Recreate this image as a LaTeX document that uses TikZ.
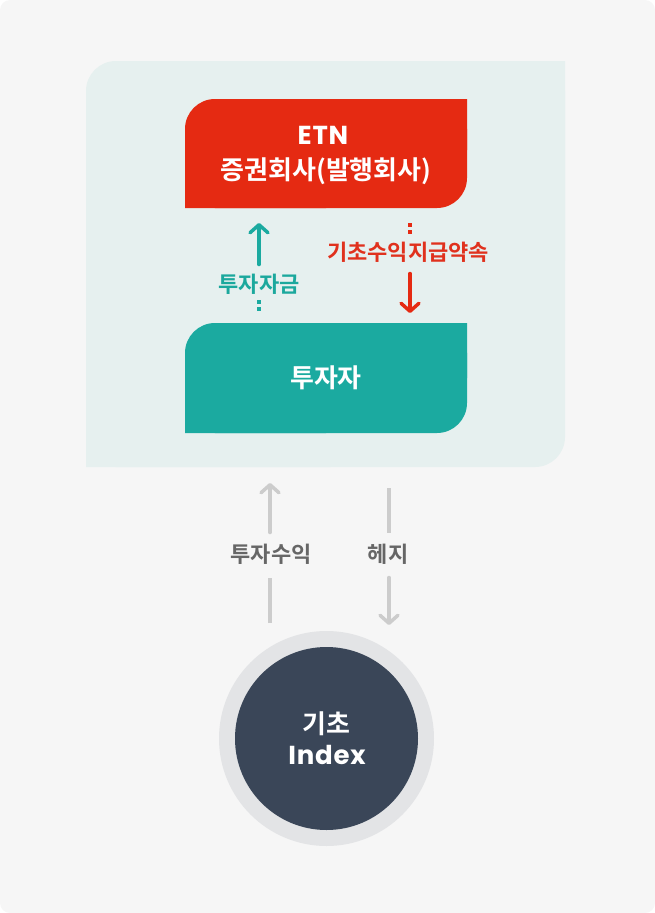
\documentclass[tikz,border=0pt]{standalone}
\usepackage{fontspec}
\usetikzlibrary{arrows.meta}
\newfontfamily\krfont{Noto Sans CJK KR Bold}
\newfontfamily\enfont{Poppins Bold}[LetterSpace=3]
\definecolor{bggray}{HTML}{F6F6F6}
\definecolor{panelc}{HTML}{E6F0EF}
\definecolor{etnred}{HTML}{E52A12}
\definecolor{tealc}{HTML}{1BAAA0}
\definecolor{navyc}{HTML}{3A4658}
\definecolor{ringc}{HTML}{E3E4E6}
\definecolor{arrgray}{HTML}{CCCCCC}
\definecolor{txtgray}{HTML}{666666}
\definecolor{redtxt}{HTML}{E0311D}
\definecolor{tealtxt}{HTML}{1BA89D}
\tikzset{
  boxtxt/.style={font=\krfont\fontsize{26}{31}\selectfont, text=white, inner sep=0pt, anchor=base},
  entxt/.style={font=\enfont\fontsize{26}{31}\selectfont, text=white, inner sep=0pt, anchor=base},
  lbl/.style={font=\krfont\fontsize{22}{26}\selectfont, inner sep=0pt, text height=17pt, text depth=2pt, outer sep=11pt},
  barb/.style={-{Straight Barb[length=8pt,width=18pt,round]}, line width=3.5pt, line cap=round},
  tealarr/.style={barb, draw=tealc},
  redarr/.style={barb, draw=etnred},
  grayline/.style={draw=arrgray, line width=3.5pt},
  grayarr/.style={barb, draw=arrgray}
}

\begin{document}
\begin{tikzpicture}[x=1pt,y=-1pt]

	\useasboundingbox (0,0) rectangle (655,913);
	\fill[bggray, rounded corners=10pt] (0,0) rectangle (655,913);
	
	\fill[panelc, rounded corners=30pt] (86,61) rectangle (565,467);
	\fill[panelc] (330,61) rectangle (565,260) (86,260) rectangle (330,467);
	
	\fill[etnred, rounded corners=30pt] (185,99) rectangle (467,208);
	\fill[etnred] (326,99) rectangle (467,150) (185,150) rectangle (326,208);
	\node[entxt] (etn) at (323,144) {ETN};
	\node[boxtxt] (issuer) at (326,179) {증권회사(발행회사)};
	
	\fill[tealc, rounded corners=30pt] (185,323) rectangle (467,433);
	\fill[tealc] (326,323) rectangle (467,378) (185,378) rectangle (326,433);
	\node[boxtxt] (investor) at (326,387) {투자자};
	
	\coordinate (fundTip) at (259,223);
	\node[lbl, text=tealtxt] (fundLbl) at (259,285) {투자자금};
	\draw[tealarr] (fundLbl.north) -- (fundTip);
	\foreach \y in {302,309} \fill[tealc] (257.25,\y-1.75) rectangle ++(3.5,3.5);
	
	\coordinate (payTip) at (410,313);
	\node[lbl, text=redtxt] (payLbl) at (408,253) {기초수익지급약속};
	\draw[redarr] (payLbl.south -| payTip) -- (payTip);
	\foreach \y in {225,232} \fill[etnred] (408.25,\y-1.75) rectangle ++(3.5,3.5);
	
	\coordinate (retTop) at (270,483);
	\coordinate (retBot) at (270,623);
	\node[lbl, text=txtgray, outer sep=13pt] (retLbl) at (271,555) {투자수익};
	\draw[grayarr] (retLbl.north -| retTop) -- (retTop);
	\draw[grayline] (retBot) -- (retLbl.south -| retBot);
	
	\coordinate (hedgeTop) at (389,488);
	\coordinate (hedgeTip) at (389,625);
	\node[lbl, text=txtgray, outer sep=13pt] (hedgeLbl) at (388,555) {헤지};
	\draw[grayline] (hedgeTop) -- (hedgeLbl.north -| hedgeTop);
	\draw[grayarr] (hedgeLbl.south -| hedgeTop) -- (hedgeTip);
	
	\fill[ringc] (326.5,738.5) circle (107.5);
	\node[circle, fill=navyc, minimum size=183pt, inner sep=0pt] (index) at (326.5,738.5) {};
	\node[boxtxt] (base) at (326.5,733) {기초};
	\node[entxt] (indexTxt) at (327,764) {Index};

\end{tikzpicture}
\end{document}
